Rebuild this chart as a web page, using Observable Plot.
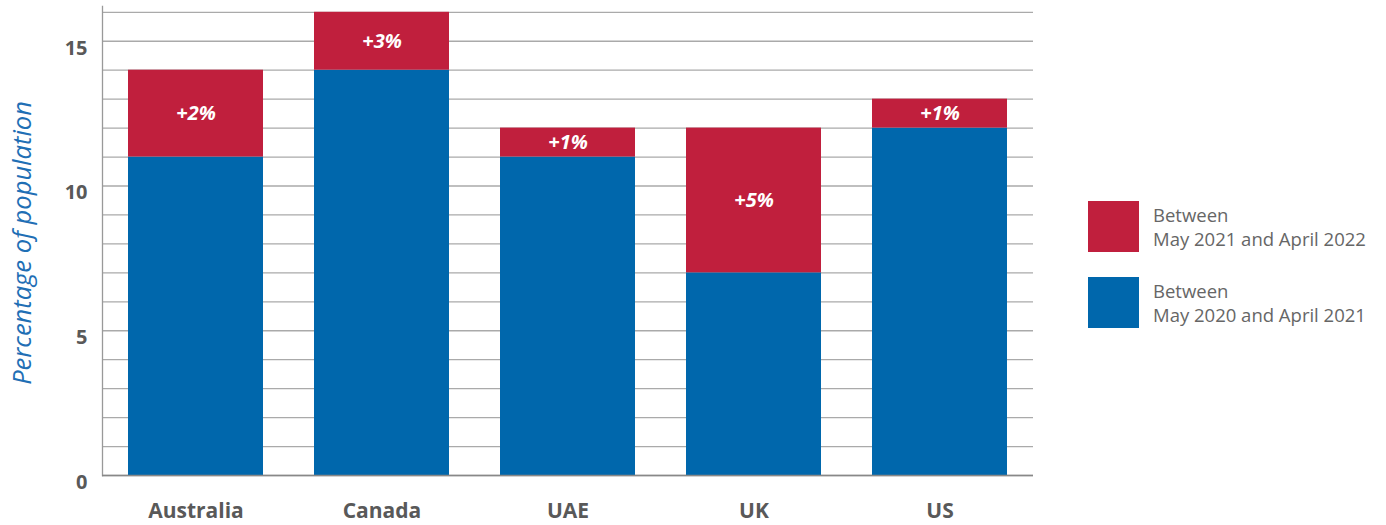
<!DOCTYPE html>
<html>
<head>
<meta charset="utf-8">
<script src="https://cdn.jsdelivr.net/npm/d3@7"></script>
<script src="https://cdn.jsdelivr.net/npm/@observablehq/plot@0.6"></script>
<style>
  body { margin: 0; background: #fff; font-family: "Open Sans", sans-serif; }
  #wrap { position: relative; width: 1386px; height: 525px; }
  #legend { position: absolute; left: 1088px; top: 201px; }
  .item { display: flex; align-items: flex-start; height: 76px; }
  .sw { width: 51px; height: 51px; flex: none; }
  .lab { margin-left: 14px; font-size: 18.5px; line-height: 24px; color: #666; margin-top: 2px; white-space: nowrap; }
</style>
</head>
<body>
<div id="wrap"><div id="legend"></div></div>
<script>
const countries = ["Australia", "Canada", "UAE", "UK", "US"];
const firstPeriod = [11, 14, 11, 7, 12];      // May 2020 – April 2021
const secondPeriodAdd = [3, 2, 1, 5, 1];      // additional, May 2021 – April 2022 (as drawn)
const addLabels = ["+2%", "+3%", "+1%", "+5%", "+1%"];
const seriesNames = ["Between\nMay 2020 and April 2021", "Between\nMay 2021 and April 2022"];
const seriesColors = ["#0067ac", "#c01f3d"];
const yTicks = [0, 5, 10, 15];
const gridValues = d3.range(0, 17);

const long = [];
countries.forEach((c, i) => {
  long.push({country: c, series: seriesNames[0], value: firstPeriod[i]});
  long.push({country: c, series: seriesNames[1], value: secondPeriodAdd[i]});
});
const labelRows = countries.map((c, i) => ({
  country: c, mid: firstPeriod[i] + secondPeriodAdd[i] / 2, label: addLabels[i]
}));

const chart = Plot.plot({
  width: 1386,
  height: 525,
  marginLeft: 102,
  marginRight: 353,
  marginTop: 6,
  marginBottom: 50,
  style: {fontFamily: "Open Sans", background: "transparent"},
  x: {domain: countries, paddingInner: 0.275, paddingOuter: 0.1375, align: 0.5},
  y: {domain: [0, 16.2]},
  color: {domain: seriesNames, range: seriesColors},
  marks: [
    Plot.ruleY(gridValues, {stroke: "#aaa", strokeWidth: 1.3}),
    Plot.frame({anchor: "left", stroke: "#999", strokeWidth: 1.3}),
    Plot.barY(long, {x: "country", y: "value", fill: "series", order: seriesNames}),
    Plot.ruleY([0], {stroke: "#888", strokeWidth: 1.5}),
    Plot.text(labelRows, {x: "country", y: "mid", text: "label", fill: "white",
      fontSize: 20, fontWeight: "bold", fontStyle: "italic"}),
    Plot.axisY({ticks: yTicks, tickSize: 0, tickPadding: 15, dy: 7, label: null,
      fontSize: 20, fontWeight: "bold", fill: "#595959"}),
    Plot.axisX({tickSize: 0, tickPadding: 28, label: null,
      fontSize: 21, fontWeight: "bold", fill: "#595959"}),
    Plot.text(["Percentage of population"], {frameAnchor: "left", rotate: -90, dx: -80, dy: 2,
      textAnchor: "middle", fontSize: 25.5, fontStyle: "italic", fill: "#1f6fb5"})
  ]
});
document.getElementById("wrap").prepend(chart);

const legend = document.getElementById("legend");
[1, 0].forEach(i => {
  const item = document.createElement("div");
  item.className = "item";
  const sw = document.createElement("div");
  sw.className = "sw";
  sw.style.background = seriesColors[i];
  const lab = document.createElement("div");
  lab.className = "lab";
  lab.innerHTML = seriesNames[i].split("\n").join("<br>");
  item.append(sw, lab);
  legend.append(item);
});
</script>
</body>
</html>
